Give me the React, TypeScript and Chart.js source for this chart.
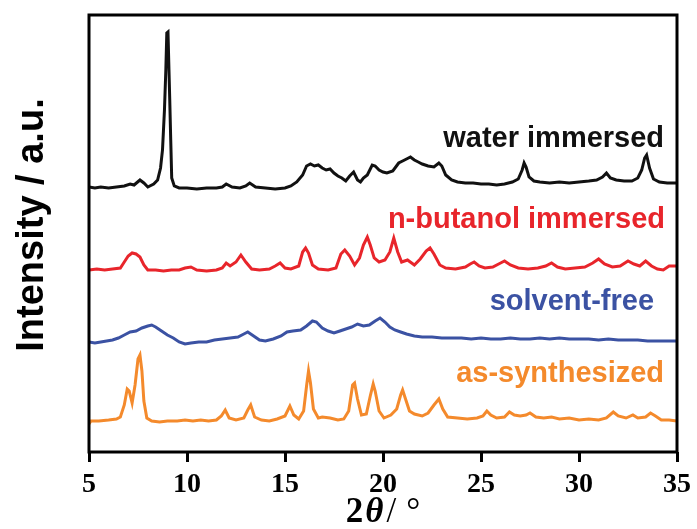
import { useEffect, useRef } from "react";
import { Chart, registerables } from "chart.js";

Chart.register(...registerables);

// 2θ axis ticks (degrees)
const xTicks = [5, 10, 15, 20, 25, 30, 35];

const seriesNames = ["water immersed", "n-butanol immersed", "solvent-free", "as-synthesized"];
const seriesColors = ["#111111", "#e8252b", "#3b52a3", "#f48a2c"];
// vertical offsets used to stack the patterns (a.u.)
const seriesOffsets = [264, 182, 109, 31];

// [2θ, intensity] pairs, intensity relative to each pattern's own baseline
const waterImmersed: [number, number][] = [
  [5.0, 1], [5.3, 0], [5.6, 1], [6.0, 0], [6.4, 1], [6.8, 2], [7.1, 4], [7.3, 3], [7.6, 8], [7.8, 5],
  [8.0, 1], [8.3, 4], [8.5, 8], [8.65, 20], [8.75, 38], [8.85, 78], [8.92, 118], [8.97, 155], [9.03, 156], [9.08, 118],
  [9.12, 88], [9.17, 48], [9.22, 10], [9.35, 2], [9.6, 0], [10.0, 0], [10.5, -1], [11.0, 0], [11.5, 0], [11.8, 1],
  [12.0, 4], [12.3, 1], [12.7, 0], [13.0, 2], [13.2, 5], [13.5, 1], [14.0, 0], [14.5, -1], [15.0, 0], [15.3, 2],
  [15.6, 6], [15.9, 13], [16.1, 22], [16.3, 24], [16.5, 22], [16.7, 23], [16.9, 20], [17.1, 18], [17.3, 19], [17.5, 15],
  [17.7, 12], [17.9, 10], [18.1, 7], [18.3, 12], [18.5, 16], [18.7, 8], [18.85, 6], [19.0, 10], [19.2, 13], [19.45, 23],
  [19.6, 22], [19.8, 18], [20.0, 16], [20.2, 15], [20.5, 17], [20.8, 25], [21.0, 27], [21.2, 29], [21.4, 31], [21.6, 28],
  [21.8, 26], [22.0, 24], [22.3, 22], [22.6, 21], [22.85, 25], [23.0, 22], [23.2, 13], [23.5, 8], [23.8, 6], [24.2, 5],
  [24.6, 5], [25.0, 4], [25.4, 4], [25.8, 3], [26.2, 4], [26.6, 6], [26.9, 9], [27.1, 18], [27.2, 25], [27.3, 21],
  [27.45, 11], [27.7, 7], [28.0, 6], [28.5, 5], [29.0, 6], [29.5, 5], [30.0, 6], [30.5, 7], [30.9, 8], [31.2, 11],
  [31.4, 15], [31.6, 10], [31.9, 8], [32.3, 7], [32.7, 7], [33.0, 10], [33.2, 18], [33.35, 30], [33.45, 33], [33.6, 20],
  [33.8, 9], [34.1, 6], [34.5, 5], [35.0, 5],
];

const butanolImmersed: [number, number][] = [
  [5.0, 0], [5.4, 1], [5.8, 0], [6.2, 1], [6.6, 2], [6.8, 8], [7.0, 14], [7.2, 17], [7.4, 16], [7.6, 13],
  [7.8, 5], [8.0, 0], [8.4, 0], [8.8, -1], [9.2, 0], [9.6, 0], [9.9, 2], [10.2, 3], [10.5, 0], [11.0, -1],
  [11.5, 0], [11.8, 2], [12.0, 7], [12.2, 4], [12.5, 8], [12.75, 15], [13.0, 8], [13.3, 1], [13.7, 0], [14.2, 1],
  [14.5, 4], [14.75, 7], [15.0, 2], [15.3, 1], [15.7, 4], [15.9, 18], [16.05, 22], [16.2, 17], [16.4, 5], [16.7, 1],
  [17.2, 0], [17.6, 2], [17.85, 16], [18.05, 20], [18.3, 14], [18.55, 5], [18.8, 12], [19.0, 25], [19.2, 33], [19.35, 25],
  [19.55, 12], [19.8, 8], [20.1, 10], [20.35, 18], [20.55, 32], [20.75, 18], [20.95, 8], [21.25, 10], [21.6, 5], [21.9, 11],
  [22.2, 19], [22.4, 22], [22.6, 16], [22.9, 5], [23.2, 2], [23.7, 1], [24.2, 3], [24.45, 6], [24.65, 8], [24.9, 4],
  [25.2, 2], [25.6, 3], [26.0, 7], [26.2, 9], [26.5, 5], [26.9, 2], [27.4, 1], [27.9, 2], [28.3, 4], [28.6, 7],
  [28.9, 3], [29.3, 1], [29.8, 2], [30.3, 3], [30.7, 7], [31.0, 11], [31.3, 6], [31.7, 3], [32.1, 4], [32.5, 9],
  [32.8, 6], [33.1, 4], [33.4, 9], [33.7, 4], [34.0, 1], [34.3, 0], [34.6, 4], [35.0, 4],
];

const solventFree: [number, number][] = [
  [5.0, 1], [5.3, 0], [5.6, 1], [5.9, 2], [6.2, 3], [6.5, 5], [6.8, 8], [7.1, 11], [7.4, 12], [7.7, 15],
  [8.0, 17], [8.2, 18], [8.4, 16], [8.7, 12], [9.0, 8], [9.3, 5], [9.6, 1], [9.9, -1], [10.2, 0], [10.6, 1],
  [11.0, 1], [11.4, 3], [11.8, 4], [12.2, 5], [12.6, 6], [12.9, 9], [13.1, 11], [13.4, 7], [13.7, 3], [14.0, 2],
  [14.4, 4], [14.8, 7], [15.1, 11], [15.4, 12], [15.8, 13], [16.1, 17], [16.4, 22], [16.6, 21], [16.9, 15], [17.2, 12],
  [17.5, 10], [17.8, 12], [18.1, 14], [18.4, 16], [18.7, 19], [19.0, 17], [19.3, 18], [19.6, 22], [19.85, 25], [20.1, 21],
  [20.35, 16], [20.6, 13], [20.9, 11], [21.2, 9], [21.6, 7], [22.0, 6], [22.5, 6], [23.0, 5], [23.5, 5], [24.0, 5],
  [24.5, 4], [25.0, 5], [25.5, 4], [26.0, 4], [26.5, 5], [27.0, 4], [27.5, 4], [28.0, 5], [28.5, 4], [29.0, 5],
  [29.5, 4], [30.0, 4], [30.5, 4], [31.0, 3], [31.5, 4], [32.0, 3], [32.5, 3], [33.0, 3], [33.5, 2], [34.0, 2],
  [34.5, 2], [35.0, 2],
];

const asSynthesized: [number, number][] = [
  [5.0, -3], [5.1, 0], [5.5, 0], [6.0, 1], [6.4, 2], [6.6, 4], [6.8, 16], [6.95, 32], [7.05, 30], [7.2, 18],
  [7.35, 36], [7.5, 62], [7.6, 66], [7.7, 50], [7.8, 20], [7.95, 3], [8.2, 0], [8.6, -1], [9.0, 0], [9.5, 0],
  [9.9, 1], [10.3, 0], [10.7, 1], [11.1, 0], [11.5, 1], [11.75, 5], [11.95, 11], [12.15, 3], [12.5, 1], [12.9, 3],
  [13.1, 11], [13.25, 16], [13.45, 4], [13.8, 1], [14.2, 0], [14.6, 2], [15.0, 5], [15.25, 15], [15.45, 6], [15.7, 2],
  [15.95, 10], [16.1, 35], [16.2, 50], [16.3, 38], [16.45, 12], [16.7, 3], [16.9, 4], [17.3, 3], [17.7, 1], [18.0, 2],
  [18.25, 10], [18.45, 36], [18.55, 38], [18.7, 22], [18.9, 6], [19.15, 7], [19.35, 25], [19.5, 37], [19.6, 30], [19.8, 10],
  [20.05, 3], [20.4, 6], [20.7, 12], [20.9, 26], [21.0, 31], [21.15, 22], [21.35, 10], [21.6, 7], [22.0, 5], [22.3, 8],
  [22.6, 16], [22.85, 22], [23.05, 12], [23.3, 4], [23.8, 3], [24.3, 2], [24.8, 3], [25.1, 5], [25.3, 10], [25.5, 6],
  [25.8, 3], [26.2, 4], [26.45, 9], [26.7, 6], [27.0, 5], [27.3, 6], [27.5, 8], [27.8, 4], [28.2, 3], [28.6, 4],
  [29.0, 2], [29.5, 3], [30.0, 1], [30.5, 2], [31.0, 1], [31.4, 3], [31.75, 9], [32.0, 5], [32.4, 3], [32.75, 6],
  [33.0, 3], [33.4, 4], [33.65, 8], [33.9, 5], [34.2, 1], [34.6, 1], [35.0, 0],
];

const patterns = [waterImmersed, butanolImmersed, solventFree, asSynthesized];

// where each sample name sits: right edge (2θ) and baseline (a.u.)
const labelAnchors = [
  { x: 34.34, y: 305 },
  { x: 34.39, y: 224 },
  { x: 33.83, y: 142 },
  { x: 34.34, y: 70 },
];

const SANS = '"Liberation Sans", Arial, Helvetica, sans-serif';
const SERIF = '"Liberation Serif", "Times New Roman", Times, serif';

const decorations = {
  id: "xrdDecorations",
  afterDatasetsDraw(chart: any) {
    const { ctx, chartArea, scales } = chart;
    const xs = scales.x;
    const ys = scales.y;
    ctx.save();

    // frame around the plot
    ctx.strokeStyle = "#000";
    ctx.lineWidth = 3;
    ctx.strokeRect(chartArea.left, chartArea.top, chartArea.right - chartArea.left, chartArea.bottom - chartArea.top);

    // sample names
    ctx.font = `bold 29px ${SANS}`;
    ctx.textAlign = "right";
    ctx.textBaseline = "alphabetic";
    labelAnchors.forEach((a, i) => {
      ctx.fillStyle = seriesColors[i];
      ctx.fillText(seriesNames[i], xs.getPixelForValue(a.x), ys.getPixelForValue(a.y));
    });

    // y-axis title
    ctx.save();
    ctx.translate(43, 225);
    ctx.rotate(-Math.PI / 2);
    ctx.fillStyle = "#000";
    ctx.textAlign = "center";
    ctx.font = `bold 38px ${SANS}`;
    ctx.fillText("Intensity / a.u.", 0, 0);
    ctx.restore();

    // x-axis title: 2θ / °
    const parts = [
      { t: "2", f: `bold 35px ${SERIF}`, gap: 2 },
      { t: "θ", f: `italic bold 35px ${SERIF}`, gap: 3 },
      { t: "/", f: `35px ${SERIF}`, gap: 10 },
      { t: "°", f: `35px ${SERIF}`, gap: 0 },
    ];
    let total = 0;
    const widths = parts.map((p) => {
      ctx.font = p.f;
      const w = ctx.measureText(p.t).width + p.gap;
      total += w;
      return w;
    });
    let cx = (chartArea.left + chartArea.right) / 2 - total / 2;
    ctx.textAlign = "left";
    ctx.fillStyle = "#000";
    parts.forEach((p, i) => {
      ctx.font = p.f;
      ctx.fillText(p.t, cx, 522);
      cx += widths[i];
    });

    ctx.restore();
  },
};

export default function App() {
  const canvasRef = useRef<HTMLCanvasElement>(null);

  useEffect(() => {
    const canvas = canvasRef.current;
    if (!canvas) return;
    const chart = new Chart(canvas, {
      type: "line",
      data: {
        datasets: patterns.map((pts, i) => ({
          label: seriesNames[i],
          data: pts.map(([x, y]) => ({ x, y: y + seriesOffsets[i] })),
          borderColor: seriesColors[i],
          borderWidth: 3,
          pointRadius: 0,
          tension: 0,
          fill: false,
        })),
      },
      options: {
        responsive: false,
        animation: false,
        devicePixelRatio: 1,
        layout: { padding: { left: 89, right: 19, top: 15, bottom: 0 } },
        plugins: {
          legend: { display: false },
          tooltip: { enabled: false },
          title: { display: false },
        },
        scales: {
          x: {
            type: "linear",
            min: 5,
            max: 35,
            afterBuildTicks: (scale: any) => {
              scale.ticks = xTicks.map((v) => ({ value: v }));
            },
            afterFit: (scale: any) => {
              scale.height = 77;
            },
            border: { display: false },
            grid: {
              display: true,
              drawOnChartArea: false,
              drawTicks: true,
              tickLength: 10,
              lineWidth: 3,
              color: "#000",
            },
            ticks: {
              color: "#000",
              padding: 6,
              maxRotation: 0,
              autoSkip: false,
              font: { family: SERIF, size: 28, weight: "bold" },
            },
          },
          y: {
            display: false,
            min: 0,
            max: 437,
          },
        },
      },
      plugins: [decorations],
    } as any);
    return () => chart.destroy();
  }, []);

  return (
    <div style={{ position: "fixed", left: 0, top: 0, width: 697, height: 529, background: "#fff" }}>
      <canvas ref={canvasRef} width={697} height={529} />
    </div>
  );
}
